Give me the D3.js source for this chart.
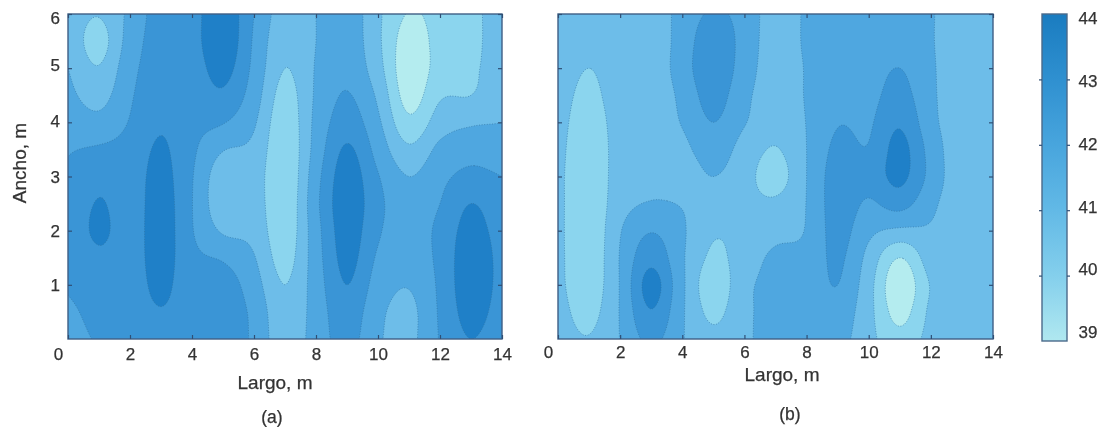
<!DOCTYPE html>
<html><head><meta charset="utf-8">
<script src="https://cdn.jsdelivr.net/npm/d3@7/dist/d3.min.js"></script>
<style>html,body{margin:0;background:#fff}svg{display:block;filter:blur(0.45px)}text{font-family:"Liberation Sans",Arial,sans-serif;fill:#333;stroke:#333;stroke-width:0.25px}</style>
</head><body><div id="c"></div>
<script>
const colX = [0,1,2,3,4,5,6,7,8,9,10,11,12,13,14];
const rowY = [6,5.5,5,4.5,4,3.5,3,2.5,2,1.5,1,0.5,0];
const levels = [39.8,40.6,41.4,42.2,43.0];
const bandColors = ["#b4ecef","#8bd5ee","#6dbde9","#4fa7e0","#3a95d6","#1f80c8"];
const xTicks = [0,2,4,6,8,10,12,14];
const yTicks = [1,2,3,4,5,6];
const yLabelShift = {6:3,5:-4,4:-2,3:0,2:0,1:0};
const barTicks = [39,40,41,42,43,44];
const barColors = ["#b0e8f0","#84cfec","#62b9e6","#48a5dd","#2f90d0","#1a7cc0"];
// each inner list is one column (colX), values from y=6 down to y=0
const panelA = [
 [41.1,41.2,41.4,41.6,41.9,42.15,42.3,42.35,42.35,42.35,42.3,42.0,41.8],
 [40.65,40.3,40.65,41.1,41.65,42.3,42.75,43.05,43.15,42.85,42.7,42.5,42.3],
 [41.6,41.75,41.95,42.1,42.25,42.5,42.6,42.6,42.6,42.6,42.6,42.6,42.5],
 [42.6,42.6,42.6,42.7,42.9,43.1,43.25,43.35,43.4,43.35,43.2,42.95,42.7],
 [42.7,42.7,42.6,42.5,42.45,42.35,42.25,42.22,42.25,42.4,42.5,42.6,42.6],
 [43.6,43.6,43.3,42.85,42.25,41.45,40.9,40.85,41.3,42.1,42.6,42.7,42.7],
 [42.2,42.1,42.0,41.8,41.5,41.2,41.0,41.0,41.15,41.45,41.75,42,42.05],
 [41.0,40.8,40.6,40.3,40.1,40.0,39.95,40.0,40.1,40.3,40.6,40.8,40.9],
 [41.4,41.4,41.45,41.5,41.6,41.7,41.9,42.0,41.9,41.85,41.8,41.75,41.75],
 [41.9,41.9,42.0,42.25,42.6,43.1,43.4,43.5,43.4,43.25,43.0,42.7,42.5],
 [40.75,40.75,40.9,41.25,41.55,41.9,42.25,42.4,42.3,42.1,41.85,41.6,41.5],
 [39.75,39.4,39.25,39.45,40.0,40.75,41.4,41.7,41.8,41.75,41.45,41.2,41.2],
 [40.1,40.1,40.15,40.5,41.0,41.6,42,42.2,42.4,42.4,42.35,42.3,42.25],
 [40.4,40.4,40.45,40.6,41.3,41.9,42.4,43.0,43.3,43.5,43.5,43.3,43.0],
 [41.0,41.0,41.05,41.15,41.4,41.7,42.2,42.4,42.6,42.7,42.7,42.6,42.4]
];
const panelB = [
 [41,41,41,40.95,40.9,40.85,40.8,40.8,40.8,40.8,40.8,40.9,41],
 [41.0,40.8,40.6,40.4,40.2,40.05,40,40,40,40.05,40.15,40.35,40.65],
 [41,41,41,41,40.95,40.95,41,41.1,41.35,41.45,41.45,41.45,41.42],
 [40.9,40.9,40.9,40.9,40.95,41.0,41.2,41.45,42.15,42.75,43.3,42.95,42.4],
 [41.7,41.75,41.8,41.6,41.45,41.2,41,41.35,41.5,41.5,41.55,41.5,41.45],
 [42.3,42.7,42.8,42.55,42.2,41.8,41.4,41,40.7,40.45,40.1,40.4,40.85],
 [41.9,41.9,41.8,41.6,41.45,41.1,40.9,40.85,40.85,41.0,41.2,41.25,41.3],
 [41,41,41,41,40.95,40.55,40.25,40.75,41.15,41.55,41.6,41.6,41.6],
 [41.5,41.5,41.45,41.45,41.42,41.4,41.4,41.42,41.45,41.6,41.65,41.7,41.7],
 [41.8,41.8,41.85,41.95,42.15,42.4,42.6,42.6,42.5,42.35,42.2,41.9,41.7],
 [41.7,41.75,41.85,41.95,42.1,42.25,42.5,42.1,41.6,41.15,40.9,40.85,40.85],
 [41.7,41.8,42.2,42.5,42.9,43.25,43.2,42.5,41.25,39.8,39.2,39.5,40.1],
 [41.45,41.45,41.5,41.55,41.65,41.9,41.95,41.6,41.3,41.0,40.65,40.75,40.85],
 [41,41,41,40.95,40.9,40.85,40.85,40.9,40.95,41,41,41,41],
 [41,41,41,41,41,41,41,41,41,41,41,41,41]
];

const W=1103,H=427;
const svg=d3.select("#c").append("svg").attr("width",W).attr("height",H);

function tangents(xs,ys){
  const n=xs.length,m=new Array(n);
  for(let i=0;i<n;i++){
    if(i===0) m[i]=(ys[1]-ys[0])/(xs[1]-xs[0]);
    else if(i===n-1) m[i]=(ys[n-1]-ys[n-2])/(xs[n-1]-xs[n-2]);
    else m[i]=(ys[i+1]-ys[i-1])/(xs[i+1]-xs[i-1]);
  }
  return m;
}
function hermite(xs,ys,x){
  let i=d3.bisectRight(xs,x)-1; i=Math.max(0,Math.min(xs.length-2,i));
  const m=tangents(xs,ys),h=xs[i+1]-xs[i],t=(x-xs[i])/h,t2=t*t,t3=t2*t;
  return (2*t3-3*t2+1)*ys[i]+(t3-2*t2+t)*h*m[i]+(-2*t3+3*t2)*ys[i+1]+(t3-t2)*h*m[i+1];
}
function resample(cols,nx,ny,dx,dy){
  const asc=rowY.slice().reverse();
  const out=new Float64Array(nx*ny);
  const ysample=d3.range(ny).map(j=>j*dy);
  const colsUp=cols.map(c=>{const a=c.slice().reverse();return ysample.map(y=>hermite(asc,a,y));});
  for(let j=0;j<ny;j++){
    const row=colsUp.map(c=>c[j]);
    for(let i=0;i<nx;i++) out[j*nx+i]=hermite(colX,row,i*dx);
  }
  return out;
}

function panel(id,cols,box,opt){
  const x=d3.scaleLinear().domain([0,14]).range([box.l,box.r]);
  const y=d3.scaleLinear().domain([0,6]).range([box.b,box.t]);
  const dx=0.05,dy=0.025,nx=281,ny=241;
  const vals=resample(cols,nx,ny,dx,dy);
  const contours=d3.contours().size([nx,ny]).thresholds(levels)(vals);
  const stream=d3.geoTransform({point(px,py){this.stream.point(x((px-0.5)*dx),y((py-0.5)*dy));}});
  const path=d3.geoPath(stream);
  svg.append("clipPath").attr("id","clip"+id).append("rect")
    .attr("x",box.l).attr("y",box.t).attr("width",box.r-box.l).attr("height",box.b-box.t);
  const g=svg.append("g").attr("clip-path",`url(#clip${id})`);
  g.append("rect").attr("x",box.l).attr("y",box.t).attr("width",box.r-box.l).attr("height",box.b-box.t).attr("fill",bandColors[0]);
  g.selectAll("path").data(contours).join("path").attr("d",path)
    .attr("fill",(d,i)=>bandColors[i+1])
    .attr("stroke","#2f6f9c").attr("stroke-opacity",0.6).attr("stroke-width",1).attr("stroke-dasharray","1 1.6");
  svg.append("rect").attr("x",box.l).attr("y",box.t).attr("width",box.r-box.l).attr("height",box.b-box.t)
    .attr("fill","none").attr("stroke","#3f5f85").attr("stroke-width",1.4);
  const axB=svg.append("g").attr("transform",`translate(0,${box.b})`)
    .call(d3.axisBottom(x).tickValues(xTicks).tickSizeInner(-4).tickSizeOuter(0).tickPadding(10));
  const axT=svg.append("g").attr("transform",`translate(0,${box.t})`)
    .call(d3.axisTop(x).tickValues(xTicks).tickSizeInner(-4).tickSizeOuter(0).tickFormat(""));
  const axL=svg.append("g").attr("transform",`translate(${box.l},0)`)
    .call(d3.axisLeft(y).tickValues(yTicks).tickSizeInner(-4).tickSizeOuter(0).tickPadding(8).tickFormat(opt.yLabels?d3.format("d"):""));
  const axR=svg.append("g").attr("transform",`translate(${box.r},0)`)
    .call(d3.axisRight(y).tickValues(yTicks).tickSizeInner(-4).tickSizeOuter(0).tickFormat(""));
  [axB,axT,axL,axR].forEach(a=>{a.select(".domain").remove();a.selectAll("line").attr("stroke","#2f4f75").attr("stroke-width",1.2);
    a.selectAll("text").attr("font-size",17).attr("font-family",null);});
  axB.selectAll("text").attr("y",opt.xTickY).attr("dy","0.32em").attr("dx",d=>d===0?-10:0);
  if(opt.yLabels) axL.selectAll("text").attr("dy",d=>yLabelShift[d]+6);
  svg.append("text").attr("x",opt.xl).attr("y",opt.xlY).attr("text-anchor","middle").attr("font-size",19).text("Largo, m");
  svg.append("text").attr("x",opt.cx).attr("y",opt.cY).attr("text-anchor","middle").attr("font-size",17.5).text(opt.cap);
}

panel("a",panelA,{l:68,r:502,t:14,b:339},{yLabels:true,xTickY:16,xl:275,xlY:389,cx:272,cY:422.5,cap:"(a)"});
panel("b",panelB,{l:558,r:993,t:14,b:339},{yLabels:false,xTickY:14,xl:782,xlY:381,cx:790,cY:420,cap:"(b)"});
svg.append("text").attr("transform","translate(26,163) rotate(-90)").attr("text-anchor","middle").attr("font-size",19).text("Ancho, m");

const barTop=14,barBot=341,barL=1042,barR=1067;
const grad=svg.append("defs").append("linearGradient").attr("id","bar").attr("x1",0).attr("x2",0).attr("y1",1).attr("y2",0);
barColors.forEach((c,i)=>grad.append("stop").attr("offset",i/(barColors.length-1)).attr("stop-color",c));
svg.append("rect").attr("x",barL).attr("y",barTop).attr("width",barR-barL).attr("height",barBot-barTop)
  .attr("fill","url(#bar)").attr("stroke","#4a6a8a").attr("stroke-width",1.4);
const by=d3.scaleLinear().domain([39,44]).range([barBot,barTop]);
const labelY=d3.scaleLinear().domain([39,44]).range([332,18]);
[["axisLeft",barR],["axisRight",barL]].forEach(([fn,px])=>{
  const a=svg.append("g").attr("transform",`translate(${px},0)`)
   .call(d3[fn](by).tickValues(barTicks.slice(1,-1)).tickSizeInner(-3).tickSizeOuter(0).tickFormat(""));
  a.select(".domain").remove();a.selectAll("line").attr("stroke","#2f4f75").attr("stroke-width",1.2);
});
svg.selectAll("text.bl").data(barTicks).join("text").attr("class","bl")
  .attr("x",1088).attr("y",d=>labelY(d)).attr("dy","0.36em").attr("text-anchor","middle").attr("font-size",17).text(d=>d);
</script></body></html>
